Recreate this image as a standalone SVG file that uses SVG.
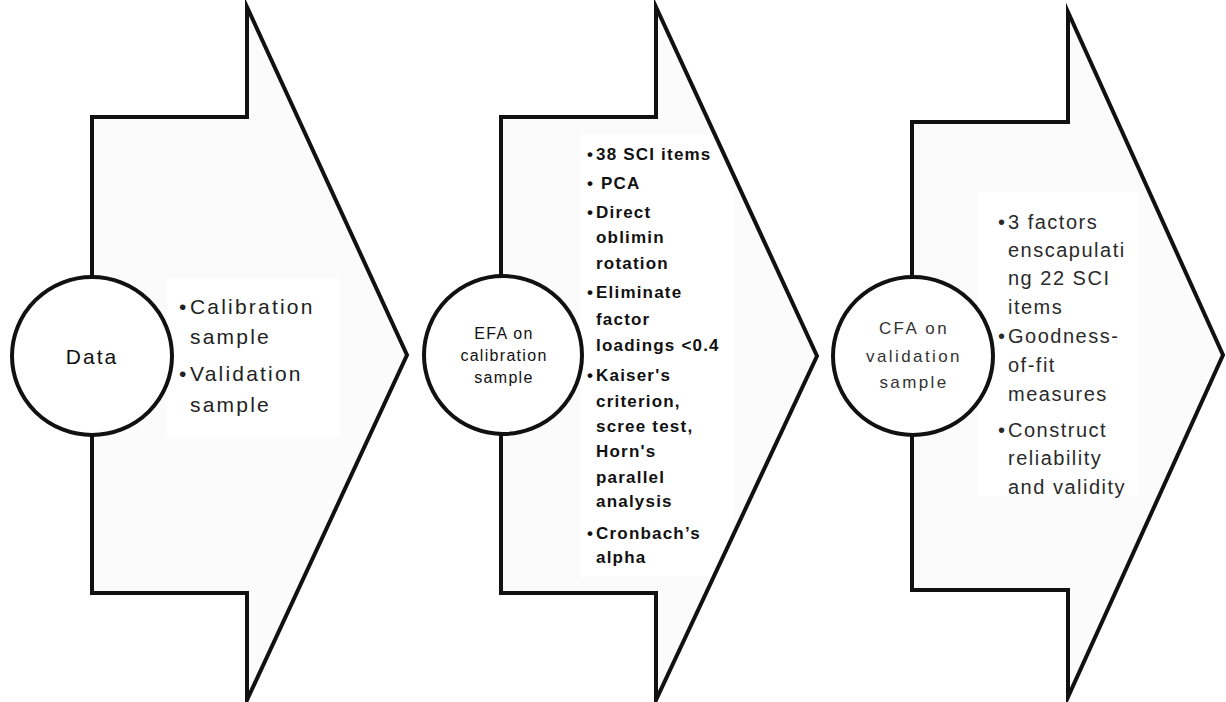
<svg xmlns="http://www.w3.org/2000/svg" width="1226" height="702" viewBox="0 0 1226 702">
<style>
.arrow{fill:#fbfbfb;stroke:none}
.outline{fill:none;stroke:#111;stroke-width:4;stroke-linejoin:miter;stroke-miterlimit:20}
.tbox{fill:#fff;stroke:none}
.circ{fill:#fff;stroke:#111;stroke-width:4}
.t{font-family:"Liberation Sans",Arial,sans-serif;fill:#111}
.data{font-size:21px;letter-spacing:2px;text-anchor:middle}
.efa{font-size:16px;letter-spacing:1.3px;text-anchor:middle}
.cfa{font-size:17px;letter-spacing:2.4px;text-anchor:middle;fill:#333}
.b1{font-size:21px;letter-spacing:2.2px;fill:#222}
.b2{font-size:17px;letter-spacing:1.2px;font-weight:bold}
.b3{font-size:20px;letter-spacing:1.5px;fill:#2a2a2a}
</style>
<defs>
<polygon id="a1" points="92,117 247,117 247,7 407,355 247,700 247,593 92,593"/>
<polygon id="a2" points="501,117 656,117 656,7 817,356 656,700 656,593 501,593"/>
<polygon id="a3" points="912,122 1068,122 1068,12 1223,355 1068,697 1068,590 912,590"/>
</defs>
<rect width="1226" height="702" fill="#fff"/>
<g id="connectors"/>
<g id="step-data">
<use href="#a1" class="arrow"/>
<rect class="tbox" x="167" y="278" width="173" height="159"/>
<use href="#a1" class="outline"/>
<ellipse class="circ" cx="92" cy="356" rx="80" ry="79"/>
<text class="t data" x="92" y="364">Data</text>
<text class="t b1"><tspan x="179" y="314">•</tspan><tspan x="190" y="314">Calibration</tspan><tspan x="190" y="344">sample</tspan><tspan x="179" y="381">•</tspan><tspan x="190" y="381">Validation</tspan><tspan x="190" y="412">sample</tspan></text>
</g>
<g id="step-efa">
<use href="#a2" class="arrow"/>
<rect class="tbox" x="580" y="134" width="153" height="443"/>
<use href="#a2" class="outline"/>
<ellipse class="circ" cx="503" cy="355" rx="79" ry="79"/>
<text class="t efa"><tspan x="504" y="339">EFA on</tspan><tspan x="504" y="361">calibration</tspan><tspan x="504" y="383">sample</tspan></text>
<text class="t b2"><tspan x="587" y="160">•</tspan><tspan x="596" y="160">38 SCI items</tspan><tspan x="587" y="189">•</tspan><tspan x="601" y="189">PCA</tspan><tspan x="587" y="218">•</tspan><tspan x="596" y="218">Direct</tspan><tspan x="596" y="243">oblimin</tspan><tspan x="596" y="269">rotation</tspan><tspan x="587" y="298">•</tspan><tspan x="596" y="298">Eliminate</tspan><tspan x="596" y="325">factor</tspan><tspan x="596" y="351">loadings &lt;0.4</tspan><tspan x="587" y="381">•</tspan><tspan x="596" y="381">Kaiser's</tspan><tspan x="596" y="407">criterion,</tspan><tspan x="596" y="432">scree test,</tspan><tspan x="596" y="457">Horn's</tspan><tspan x="596" y="483">parallel</tspan><tspan x="596" y="507">analysis</tspan><tspan x="587" y="539">•</tspan><tspan x="596" y="539">Cronbach’s</tspan><tspan x="596" y="563">alpha</tspan></text>
</g>
<g id="step-cfa">
<use href="#a3" class="arrow"/>
<rect class="tbox" x="979" y="192" width="160" height="304"/>
<use href="#a3" class="outline"/>
<ellipse class="circ" cx="913" cy="356" rx="80" ry="79"/>
<text class="t cfa"><tspan x="914" y="334">CFA on</tspan><tspan x="914" y="362">validation</tspan><tspan x="914" y="388">sample</tspan></text>
<text class="t b3"><tspan x="998" y="229">•</tspan><tspan x="1008" y="229">3 factors</tspan><tspan x="1008" y="257">enscapulati</tspan><tspan x="1008" y="285">ng 22 SCI</tspan><tspan x="1008" y="314">items</tspan><tspan x="998" y="343">•</tspan><tspan x="1008" y="343">Goodness-</tspan><tspan x="1008" y="372">of-fit</tspan><tspan x="1008" y="401">measures</tspan><tspan x="998" y="437">•</tspan><tspan x="1008" y="437">Construct</tspan><tspan x="1008" y="465">reliability</tspan><tspan x="1008" y="494">and validity</tspan></text>
</g>
</svg>
